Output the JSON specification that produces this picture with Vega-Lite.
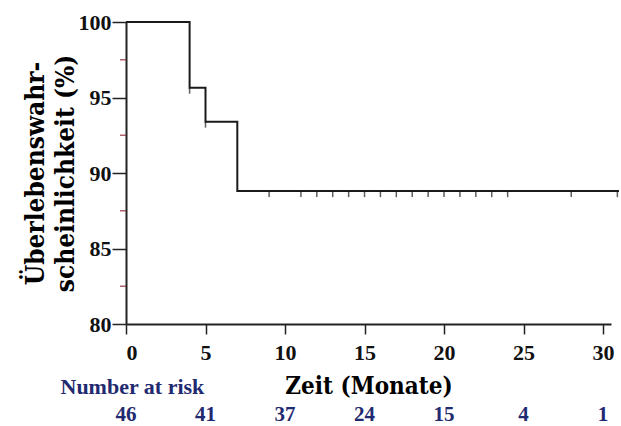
{
  "$schema": "https://vega.github.io/schema/vega-lite/v6.json",
  "padding": {"left": 21, "top": 11, "right": 0, "bottom": 0},
  "background": "white",
  "config": {"view": {"stroke": null}},
  "datasets": {
    "curve": [
      {"month": 0, "survival": 100},
      {"month": 4, "survival": 95.65},
      {"month": 5, "survival": 93.4},
      {"month": 7, "survival": 88.8},
      {"month": 31, "survival": 88.8}
    ],
    "censored": [
      {"month": 4, "survival": 95.65},
      {"month": 5, "survival": 93.4},
      {"month": 9, "survival": 88.8},
      {"month": 11, "survival": 88.8},
      {"month": 12, "survival": 88.8},
      {"month": 13, "survival": 88.8},
      {"month": 14, "survival": 88.8},
      {"month": 15, "survival": 88.8},
      {"month": 16, "survival": 88.8},
      {"month": 17, "survival": 88.8},
      {"month": 18, "survival": 88.8},
      {"month": 19, "survival": 88.8},
      {"month": 20, "survival": 88.8},
      {"month": 21, "survival": 88.8},
      {"month": 22, "survival": 88.8},
      {"month": 23, "survival": 88.8},
      {"month": 24, "survival": 88.8},
      {"month": 28, "survival": 88.8},
      {"month": 30.9, "survival": 88.8}
    ],
    "minor": [
      {"value": 82.5}, {"value": 87.5}, {"value": 92.5}, {"value": 97.5}
    ],
    "risk": [
      {"month": 0, "n": 46},
      {"month": 5, "n": 41},
      {"month": 10, "n": 37},
      {"month": 15, "n": 24},
      {"month": 20, "n": 15},
      {"month": 25, "n": 4},
      {"month": 30, "n": 1}
    ]
  },
  "vconcat": [
    {
      "width": 485,
      "height": 302,
      "layer": [
        {
          "data": {"name": "curve"},
          "mark": {"type": "line", "interpolate": "step-after", "color": "#1a1a1a", "strokeWidth": 2, "clip": false},
          "encoding": {
            "x": {
              "field": "month", "type": "quantitative",
              "scale": {"domain": [0, 30.5], "nice": false, "zero": false},
              "axis": {
                "values": [0, 5, 10, 15, 20, 25, 30],
                "grid": false,
                "tickSize": 10, "tickWidth": 1.5, "tickColor": "#222",
                "domainColor": "#222", "domainWidth": 2,
                "labelFont": "Liberation Serif", "labelFontWeight": "bold", "labelFontSize": 22, "labelColor": "#111", "labelPadding": 8,
                "title": "Zeit (Monate)",
                "titleFont": "DejaVu Serif Condensed", "titleFontWeight": "bold", "titleFontSize": 24, "titleColor": "#000", "titlePadding": 11
              }
            },
            "y": {
              "field": "survival", "type": "quantitative",
              "scale": {"domain": [80, 100], "nice": false, "zero": false},
              "axis": {
                "values": [80, 85, 90, 95, 100],
                "grid": false,
                "tickSize": 14, "tickWidth": 1.5, "tickColor": "#222",
                "domainColor": "#222", "domainWidth": 2,
                "labelFont": "Liberation Serif", "labelFontWeight": "bold", "labelFontSize": 22, "labelColor": "#111", "labelPadding": 1,
                "title": ["Überlebenswahr-", "scheinlichkeit (%)"],
                "titleFont": "DejaVu Serif Condensed", "titleFontWeight": "bold", "titleFontSize": 26, "titleLineHeight": 30, "titleColor": "#000", "titlePadding": 0
              }
            }
          }
        },
        {
          "data": {"name": "censored"},
          "mark": {"type": "tick", "orient": "vertical", "color": "#1a1a1a", "thickness": 1.5, "size": 6, "yOffset": 3, "clip": false},
          "encoding": {
            "x": {"field": "month", "type": "quantitative"},
            "y": {"field": "survival", "type": "quantitative"}
          }
        },
        {
          "data": {"name": "minor"},
          "mark": {"type": "tick", "orient": "horizontal", "color": "#8b1c2c", "thickness": 1.5, "size": 6, "xOffset": -3, "clip": false},
          "encoding": {
            "x": {"datum": 0, "type": "quantitative"},
            "y": {"field": "value", "type": "quantitative"}
          }
        }
      ]
    },
    {
      "width": 485,
      "height": 18,
      "data": {"name": "risk"},
      "title": {
        "text": "Number at risk", "anchor": "start", "dx": -55, "offset": 5,
        "font": "Liberation Serif", "fontWeight": "bold", "fontSize": 22, "color": "#1f2a70"
      },
      "mark": {"type": "text", "font": "Liberation Serif", "fontWeight": "bold", "fontSize": 21, "color": "#1f2a70"},
      "encoding": {
        "x": {"field": "month", "type": "quantitative", "scale": {"domain": [0, 30.5], "nice": false, "zero": false}, "axis": null},
        "text": {"field": "n", "type": "quantitative"}
      }
    }
  ],
  "bounds": "flush",
  "spacing": 82
}
